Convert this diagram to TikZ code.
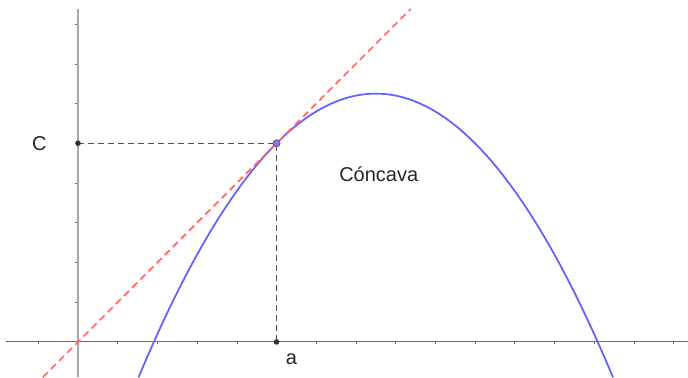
\documentclass[tikz,border=0pt]{standalone}
\usepackage{fontspec}
\setmainfont{Liberation Sans}
\definecolor{axisx}{HTML}{6A6A6A}
\definecolor{axisy}{HTML}{A8A8A8}
\definecolor{curveblue}{HTML}{6464FF}
\definecolor{tanred}{HTML}{FF6666}
\definecolor{guide}{HTML}{505050}
\definecolor{ptdark}{HTML}{333333}
\begin{document}
\begin{tikzpicture}[x=39.67bp,y=39.7bp,
  lbl/.style={font=\fontsize{20bp}{24bp}\selectfont, text=black!85, inner sep=0pt},
  guideline/.style={guide, line width=1.5bp, dash pattern=on 6bp off 4bp},
  tangent/.style={tanred, line width=1.7bp, dash pattern=on 7bp off 4.5bp},
  curve/.style={curveblue, line width=1.8bp},
  tick/.style={axisx, line width=0.6bp}]
\useasboundingbox (-1.966,-0.889) rectangle (15.365,8.607);
% axes
\coordinate (xl) at (-1.81,0);
\coordinate (xr) at (15.365,0);
\coordinate (yb) at (0,-0.889);
\coordinate (yt) at (0,8.38);
\foreach \i in {-1,1,2,...,15} \draw[tick] (\i,0) -- (\i,-0.06);
\foreach \j in {1,...,8} \draw[tick] (0,\j) -- (-0.08,\j);
\draw[axisy, line width=1.6bp] (yb) -- (yt);
\draw[axisx, line width=0.9bp] (xl) -- (xr);
% parabola
\draw[curve] plot[domain=1.525:13.475, samples=120, smooth] (\x,{-0.2*(\x-7.5)*(\x-7.5)+6.25});
% tangent line y = x
\coordinate (tb) at (-0.889,-0.889);
\coordinate (tt) at (8.38,8.38);
\draw[tangent] (tb) -- (tt);
% points
\coordinate (P) at (5,5);
\coordinate (Cp) at (0,5);
\coordinate (Ap) at (5,0);
\draw[guideline] (Cp) -- (P) -- (Ap);
\fill[ptdark] (Cp) circle (2.8bp);
\fill[ptdark] (Ap) circle (2.8bp);
\filldraw[fill=curveblue!85, draw=ptdark!80, line width=0.8bp] (P) circle (3.5bp);
% labels
\node[lbl] (Clbl) at (-0.975,4.98) {C};
\node[lbl] (albl) at (5.377,-0.436) {a};
\node[lbl] (conc) at (7.575,4.21) {Cóncava};
\end{tikzpicture}
\end{document}
